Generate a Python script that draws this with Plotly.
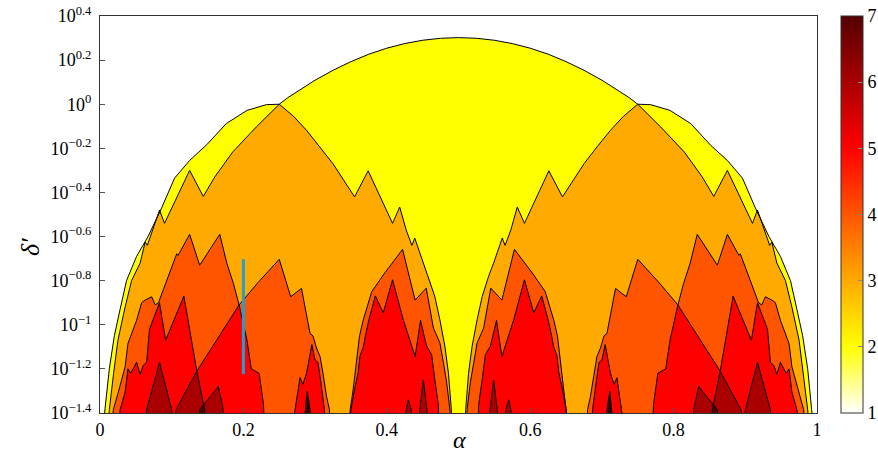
import numpy as np
import plotly.graph_objects as go

# ---------------- data: boundary curves (alpha, log10 delta') ----------
ENVELOPE = [(0.004,-1.5),(0.007,-1.38),(0.013,-1.2),(0.020,-1.05),(0.028,-0.93),(0.037,-0.80),
            (0.051,-0.69),(0.067,-0.60),(0.086,-0.47),(0.104,-0.335),(0.125,-0.255),(0.148,-0.187),
            (0.150,-0.18),(0.176,-0.088),(0.205,-0.028),(0.232,-0.002),(0.250,0.0),
            (0.262,0.03),(0.275,0.057),(0.30,0.109),(0.325,0.154),(0.35,0.193),(0.375,0.227),
            (0.40,0.254),(0.425,0.275),(0.45,0.290),(0.475,0.299),(0.50,0.302),
            (0.525,0.299),(0.55,0.290),(0.575,0.275),(0.60,0.254),(0.625,0.227),(0.65,0.193),
            (0.675,0.154),(0.70,0.109),(0.725,0.057),(0.738,0.03),(0.750,0.0),(0.768,-0.002),
            (0.795,-0.028),(0.824,-0.088),(0.850,-0.18),(0.852,-0.187),(0.875,-0.255),(0.896,-0.335),
            (0.914,-0.47),(0.933,-0.60),(0.949,-0.69),(0.963,-0.80),(0.972,-0.93),(0.980,-1.05),
            (0.987,-1.2),(0.993,-1.38),(0.996,-1.5)]

ORANGE_L = [(0.010,-1.5),(0.013,-1.385),(0.019,-1.22),(0.025,-1.07),(0.035,-0.92),(0.044,-0.80),
            (0.056,-0.72),(0.063,-0.625),(0.066,-0.64),(0.083,-0.48),(0.090,-0.54),(0.125,-0.30),
            (0.144,-0.418),(0.160,-0.33),(0.185,-0.217),(0.218,-0.103),(0.250,0.0),(0.270,-0.055),
            (0.288,-0.118),(0.306,-0.19),(0.325,-0.27),(0.355,-0.42),(0.374,-0.302),(0.408,-0.54),
            (0.418,-0.466),(0.427,-0.57),(0.435,-0.64),(0.439,-0.607),(0.451,-0.72),(0.458,-0.78),
            (0.467,-0.872),(0.474,-0.977),(0.481,-1.097),(0.486,-1.22),(0.490,-1.385),(0.491,-1.5)]
ORANGE_R = [(0.509,-1.5),(0.510,-1.385),(0.514,-1.22),(0.519,-1.097),(0.526,-0.977),(0.533,-0.872),
            (0.542,-0.78),(0.549,-0.72),(0.561,-0.607),(0.565,-0.64),(0.573,-0.57),(0.582,-0.466),
            (0.592,-0.54),(0.626,-0.302),(0.645,-0.42),(0.675,-0.27),(0.694,-0.19),(0.712,-0.118),
            (0.730,-0.055),(0.750,0.0),(0.782,-0.103),(0.815,-0.217),(0.840,-0.33),(0.856,-0.418),
            (0.875,-0.30),(0.910,-0.54),(0.917,-0.48),(0.934,-0.64),(0.937,-0.625),(0.944,-0.72),
            (0.956,-0.80),(0.965,-0.92),(0.975,-1.07),(0.981,-1.22),(0.987,-1.385),(0.990,-1.5)]

TENT_A_L = [(0.016,-1.5),(0.0186,-1.385),(0.0256,-1.305),(0.030,-1.25),(0.035,-1.19),(0.039,-1.085),
            (0.044,-1.04),(0.051,-0.98),(0.058,-0.90),(0.063,-0.888),(0.072,-0.873),(0.077,-0.91),
            (0.0815,-0.90),(0.093,-0.797),(0.107,-0.678),(0.109,-0.685),(0.125,-0.59),(0.139,-0.73),
            (0.167,-0.59),(0.177,-0.722),(0.186,-0.812),(0.194,-0.91),(0.205,-1.07),(0.211,-1.2),
            (0.222,-1.22),(0.228,-1.36),(0.230,-1.5)]
TENT_A_R = [(0.770,-1.5),(0.772,-1.36),(0.778,-1.22),(0.789,-1.2),(0.795,-1.07),(0.806,-0.91),
            (0.814,-0.812),(0.823,-0.722),(0.833,-0.59),(0.861,-0.73),(0.875,-0.59),(0.891,-0.685),
            (0.893,-0.678),(0.907,-0.797),(0.9185,-0.90),(0.923,-0.91),(0.928,-0.873),(0.937,-0.888),
            (0.942,-0.90),(0.949,-0.98),(0.956,-1.04),(0.961,-1.085),(0.965,-1.19),(0.970,-1.25),
            (0.9744,-1.305),(0.9814,-1.385),(0.984,-1.5)]

TENT_B_L = [(0.100,-1.5),(0.106,-1.385),(0.135,-1.21),(0.194,-0.91),(0.22,-0.81),(0.250,-0.703),
            (0.266,-0.873),(0.281,-0.835),(0.293,-1.04),(0.297,-1.05),(0.302,-1.105),(0.307,-1.145),
            (0.311,-1.22),(0.316,-1.325),(0.320,-1.385),(0.321,-1.5)]
TENT_B_R = [(0.679,-1.5),(0.680,-1.385),(0.684,-1.325),(0.689,-1.22),(0.693,-1.145),(0.698,-1.105),
            (0.703,-1.05),(0.707,-1.04),(0.719,-0.835),(0.734,-0.873),(0.750,-0.703),(0.78,-0.81),
            (0.806,-0.91),(0.865,-1.21),(0.894,-1.385),(0.900,-1.5)]

TENT_C_L = [(0.026,-1.5),(0.028,-1.385),(0.035,-1.305),(0.039,-1.2),(0.043,-1.22),(0.051,-1.17),
            (0.056,-1.225),(0.060,-1.185),(0.065,-1.17),(0.069,-1.02),(0.083,-0.90),(0.0915,-1.07),
            (0.117,-0.87),(0.135,-1.21),(0.146,-1.385),(0.147,-1.5)]
TENT_C_R = [(0.853,-1.5),(0.854,-1.385),(0.865,-1.21),(0.883,-0.87),(0.9085,-1.07),(0.917,-0.90),
            (0.931,-1.02),(0.935,-1.17),(0.940,-1.185),(0.944,-1.225),(0.949,-1.17),(0.957,-1.22),
            (0.961,-1.2),(0.965,-1.305),(0.972,-1.385),(0.974,-1.5)]

TENT_F_L = [(0.346,-1.5),(0.349,-1.385),(0.353,-1.295),(0.358,-1.16),(0.362,-1.05),(0.367,-0.98),
            (0.379,-0.85),(0.396,-0.77),(0.422,-0.658),(0.4395,-0.888),(0.455,-0.834),(0.465,-1.015),
            (0.474,-1.082),(0.479,-1.172),(0.4835,-1.262),(0.488,-1.385),(0.489,-1.5)]
TENT_F_R = [(0.511,-1.5),(0.512,-1.385),(0.5165,-1.262),(0.521,-1.172),(0.526,-1.082),(0.535,-1.015),
            (0.545,-0.834),(0.5605,-0.888),(0.578,-0.658),(0.604,-0.77),(0.621,-0.85),(0.633,-0.98),
            (0.638,-1.05),(0.642,-1.16),(0.647,-1.295),(0.651,-1.385),(0.654,-1.5)]

TENT_G_L = [(0.347,-1.5),(0.350,-1.385),(0.355,-1.293),(0.360,-1.218),(0.3625,-1.143),(0.3675,-1.097),
            (0.370,-1.052),(0.375,-0.977),(0.384,-0.869),(0.395,-0.946),(0.408,-0.796),(0.423,-0.977),
            (0.4395,-1.144),(0.447,-0.98),(0.4555,-1.097),(0.4625,-1.135),(0.467,-1.248),(0.472,-1.365),
            (0.473,-1.5)]
TENT_G_R = [(0.527,-1.5),(0.528,-1.365),(0.533,-1.248),(0.5375,-1.135),(0.5445,-1.097),(0.553,-0.98),
            (0.5605,-1.144),(0.577,-0.977),(0.592,-0.796),(0.605,-0.946),(0.616,-0.869),(0.625,-0.977),
            (0.630,-1.052),(0.6325,-1.097),(0.6375,-1.143),(0.640,-1.218),(0.645,-1.293),(0.650,-1.385),
            (0.653,-1.5)]

TENT_H_L = [(0.268,-1.5),(0.272,-1.385),(0.279,-1.24),(0.283,-1.27),(0.288,-1.22),(0.2955,-1.09),
            (0.300,-1.16),(0.304,-1.17),(0.308,-1.26),(0.313,-1.385),(0.314,-1.5)]
TENT_H_R = [(0.686,-1.5),(0.687,-1.385),(0.692,-1.26),(0.696,-1.17),(0.700,-1.16),(0.7045,-1.09),
            (0.712,-1.22),(0.717,-1.27),(0.721,-1.24),(0.728,-1.385),(0.732,-1.5)]

SPIKE_D1_L = [(0.062,-1.5),(0.065,-1.385),(0.083,-1.17),(0.100,-1.385),(0.102,-1.5)]
SPIKE_D1_R = [(0.898,-1.5),(0.900,-1.385),(0.917,-1.17),(0.935,-1.385),(0.938,-1.5)]
SPIKE_D3_L = [(0.137,-1.5),(0.139,-1.385),(0.165,-1.28),(0.172,-1.385),(0.173,-1.5)]
SPIKE_D3_R = [(0.827,-1.5),(0.828,-1.385),(0.835,-1.28),(0.861,-1.385),(0.863,-1.5)]
SPIKE_K6_L = [(0.283,-1.5),(0.286,-1.385),(0.289,-1.3),(0.293,-1.385),(0.295,-1.5)]
SPIKE_K6_R = [(0.705,-1.5),(0.707,-1.385),(0.711,-1.3),(0.714,-1.385),(0.717,-1.5)]
SPIKE_K7_L = [(0.287,-1.5),(0.288,-1.385),(0.2895,-1.33),(0.291,-1.385),(0.292,-1.5)]
SPIKE_K7_R = [(0.708,-1.5),(0.709,-1.385),(0.7105,-1.33),(0.712,-1.385),(0.713,-1.5)]
SPIKE_J1_L = [(0.425,-1.5),(0.427,-1.385),(0.430,-1.34),(0.434,-1.385),(0.435,-1.5)]
SPIKE_J1_R = [(0.565,-1.5),(0.566,-1.385),(0.570,-1.34),(0.573,-1.385),(0.575,-1.5)]
SPIKE_J2_L = [(0.444,-1.5),(0.446,-1.385),(0.451,-1.25),(0.456,-1.385),(0.457,-1.5)]
SPIKE_J2_R = [(0.543,-1.5),(0.544,-1.385),(0.549,-1.25),(0.554,-1.385),(0.556,-1.5)]

CURVES = [ENVELOPE, ORANGE_L, ORANGE_R, TENT_A_L, TENT_A_R, TENT_B_L, TENT_B_R,
          TENT_C_L, TENT_C_R, TENT_F_L, TENT_F_R, TENT_G_L, TENT_G_R, TENT_H_L, TENT_H_R,
          SPIKE_D1_L, SPIKE_D1_R, SPIKE_D3_L, SPIKE_D3_R, SPIKE_K6_L, SPIKE_K6_R,
          SPIKE_K7_L, SPIKE_K7_R, SPIKE_J1_L, SPIKE_J1_R, SPIKE_J2_L, SPIKE_J2_R]

X_TICKS = [0, 0.2, 0.4, 0.6, 0.8, 1]
X_TICKTEXT = ["0", "0.2", "0.4", "0.6", "0.8", "1"]
Y_TICK_EXP = [0.4, 0.2, 0, -0.2, -0.4, -0.6, -0.8, -1, -1.2, -1.4]
Y_TICKTEXT = ["10<sup>0.4</sup>", "10<sup>0.2</sup>", "10<sup>0</sup>", "10<sup>−0.2</sup>",
              "10<sup>−0.4</sup>", "10<sup>−0.6</sup>", "10<sup>−0.8</sup>", "10<sup>−1</sup>",
              "10<sup>−1.2</sup>", "10<sup>−1.4</sup>"]
CBAR_TICKS = [1, 2, 3, 4, 5, 6, 7]
MARKER_ALPHA = [0.2, 0.2]
MARKER_EXP = [-1.223, -0.703]

COLORSCALE = [[0, "#ffffff"], [1/6, "#ffff00"], [2/6, "#ffaa00"], [3/6, "#ff5500"],
              [4/6, "#ff0000"], [5/6, "#aa0000"], [1, "#550000"]]

# ---------------- raster of region levels: 1 + number of curves lying above a point ----------
nx, ny = 1434, 794
gx = (np.arange(nx) + 0.5) / nx
gy = -1.4 + (np.arange(ny) + 0.5) / ny * 1.8
level = np.ones((ny, nx), dtype=np.int16)
for c in CURVES:
    xs = np.array([p[0] for p in c])
    ys = np.array([p[1] for p in c])
    top = np.interp(gx, xs, ys, left=-9, right=-9)
    level += (gy[:, None] < top[None, :]).astype(np.int16)

FONT = "Liberation Serif"
fig = go.Figure()
fig.add_trace(go.Heatmap(
    x=gx, y=10 ** gy, z=level.tolist(), zmin=1, zmax=7, zsmooth=False,
    colorscale=COLORSCALE, hoverinfo="skip",
    colorbar=dict(x=1.033, xanchor="left", xpad=0, ypad=0, y=0.5, yanchor="middle",
                  len=1, lenmode="fraction", thickness=22, outlinewidth=1, outlinecolor="#333",
                  tickvals=CBAR_TICKS, ticks="inside", ticklen=5, tickcolor="#888",
                  tickfont=dict(family=FONT, size=18, color="black"))))

for c in CURVES:
    fig.add_trace(go.Scatter(x=[p[0] for p in c], y=[10 ** p[1] for p in c], mode="lines",
                             line=dict(color="black", width=1), hoverinfo="skip", showlegend=False))

fig.add_trace(go.Scatter(x=MARKER_ALPHA, y=[10 ** e for e in MARKER_EXP], mode="lines",
                         line=dict(color="#22a0d2", width=3), showlegend=False, hoverinfo="skip"))

fig.update_layout(
    width=878, height=453, margin=dict(l=100, r=61, t=16, b=40, autoexpand=False),
    paper_bgcolor="white", plot_bgcolor="white", showlegend=False,
    font=dict(family=FONT, size=18, color="black"),
    xaxis=dict(range=[0, 1], tickvals=X_TICKS, ticktext=X_TICKTEXT, showline=True, mirror=True,
               linecolor="#333", linewidth=1, ticks="inside", ticklen=5, tickcolor="#555",
               showgrid=False, zeroline=False, layer="above traces", automargin=False,
               tickfont=dict(family=FONT, size=18)),
    yaxis=dict(type="log", range=[-1.4000001, 0.4000001], tickvals=[10 ** v for v in Y_TICK_EXP],
               ticktext=Y_TICKTEXT, showline=True, mirror=True, linecolor="#333", linewidth=1,
               ticks="inside", ticklen=5, tickcolor="#555", showgrid=False, zeroline=False,
               ticklabelstandoff=4,
               layer="above traces", automargin=False, tickfont=dict(family=FONT, size=18)),
    annotations=[
        dict(text="<i>δ′</i>", xref="paper", yref="paper", x=-0.0976, y=0.418,
             showarrow=False, textangle=-90, font=dict(family=FONT, size=26),
             xanchor="center", yanchor="middle"),
        dict(text="<i>α</i>", xref="paper", yref="paper", x=0.502, y=-0.068,
             showarrow=False, font=dict(family=FONT, size=24),
             xanchor="center", yanchor="middle"),
    ],
)

fig.write_html("out.html", config={"displayModeBar": False},
               post_script="document.body.style.margin='0px';document.body.style.overflow='hidden';")
